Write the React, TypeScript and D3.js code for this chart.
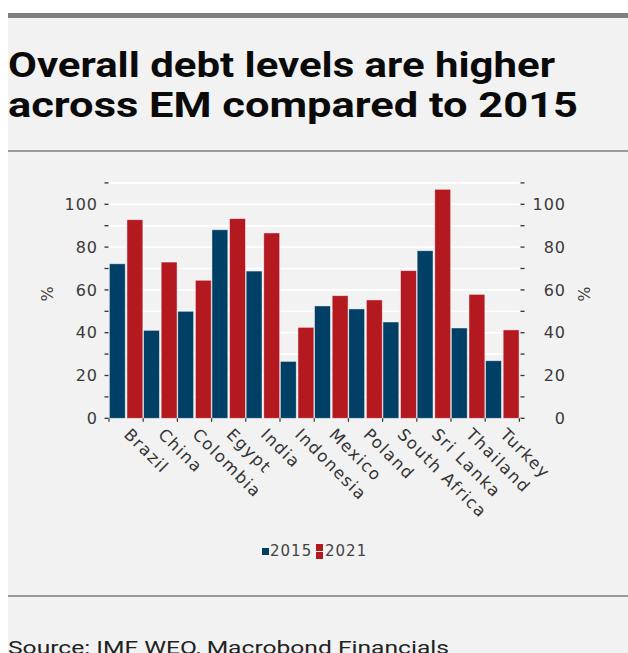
import React from "react";
import * as d3 from "d3";

const categories = ["Brazil", "China", "Colombia", "Egypt", "India", "Indonesia", "Mexico", "Poland", "South Africa", "Sri Lanka", "Thailand", "Turkey"];
const series = ["2015", "2021"];
const values2015 = [72.2, 41.1, 50.0, 88.1, 68.8, 26.6, 52.5, 51.1, 45.0, 78.3, 42.2, 26.9];
const values2021 = [92.8, 73.0, 64.5, 93.3, 86.6, 42.5, 57.3, 55.3, 69.0, 107.0, 57.9, 41.3];
const yTicks = [0, 20, 40, 60, 80, 100];
const title1 = "Overall debt levels are higher";
const title2 = "across EM compared to 2015";
const source = "Source: IMF WEO, Macrobond Financials";

const colors: Record<string, string> = { "2015": "#003f66", "2021": "#b3191f" };

export default function App() {
  const W = 628, H = 653;
  const left = 109, right = 519.4, top = 182.9, bottom = 418.3;
  const x0 = d3.scaleBand<string>().domain(categories).range([left, right]).paddingInner(0).paddingOuter(0);
  const x1 = d3.scaleBand<string>().domain(series).range([0, x0.bandwidth()]).paddingInner(0.1).paddingOuter(0.02);
  const y = d3.scaleLinear().domain([0, 110]).range([bottom, top]);
  const minor = d3.range(0, 111, 10);
  const grid = d3.range(10, 111, 10);
  const data: Record<string, number[]> = { "2015": values2015, "2021": values2021 };
  const tickFont = "DejaVu Sans, sans-serif";
  return (
    <svg width={W} height={H} style={{ position: "absolute", left: 0, top: 0 }}>
      <rect x={0} y={0} width={W} height={H} fill="#ffffff" />
      <rect x={8} y={13} width={W - 8} height={H - 13} fill="#f2f2f2" />
      <rect x={8} y={13} width={W - 8} height={5} fill="#7f7f7f" />
      <text x={8} y={77} fontFamily="Roboto, sans-serif" fontWeight={700} fontSize={35} fill="#0a0a0a" textLength={547} lengthAdjust="spacingAndGlyphs">{title1}</text>
      <text x={8} y={117} fontFamily="Roboto, sans-serif" fontWeight={700} fontSize={35} fill="#0a0a0a" textLength={570} lengthAdjust="spacingAndGlyphs">{title2}</text>
      <line x1={8} x2={W} y1={151} y2={151} stroke="#9a9a9a" strokeWidth={2} />

      {grid.map((g) => (
        <line key={"g" + g} x1={left} x2={right} y1={y(g)} y2={y(g)} stroke="#ffffff" strokeWidth={1.6} />
      ))}

      {series.map((s) =>
        categories.map((c, i) => (
          <rect key={s + c} x={(x0(c) as number) + (x1(s) as number)} y={y(data[s][i])} width={x1.bandwidth()} height={bottom - y(data[s][i])} fill={colors[s]} stroke="#ffffff" strokeOpacity={0.55} strokeWidth={0.8} />
        ))
      )}

      {minor.map((t) => (
        <g key={"t" + t}>
          <line x1={104.5} x2={108.5} y1={y(t)} y2={y(t)} stroke="#333" strokeWidth={1.3} />
          <line x1={520.5} x2={524.5} y1={y(t)} y2={y(t)} stroke="#333" strokeWidth={1.3} />
        </g>
      ))}
      {yTicks.map((t) => (
        <g key={"l" + t} fontFamily={tickFont} fontSize={16} fill="#3a3a3a" letterSpacing={1}>
          <text x={98} y={y(t)} dy="0.36em" textAnchor="end">{t}</text>
          <text x={566} y={y(t)} dy="0.36em" textAnchor="end">{t}</text>
        </g>
      ))}
      <text transform={`translate(47,294) rotate(-90)`} textAnchor="middle" dy="0.36em" fontFamily={tickFont} fontSize={16} fill="#3a3a3a">%</text>
      <text transform={`translate(584,294) rotate(90)`} textAnchor="middle" dy="0.36em" fontFamily={tickFont} fontSize={16} fill="#3a3a3a">%</text>

      {[...categories.map((c) => x0(c) as number), right].map((bx, i) => (
        <line key={"b" + i} x1={bx} x2={bx} y1={bottom} y2={bottom + 3.5} stroke="#333" strokeWidth={1.2} />
      ))}
      {categories.map((c) => (
        <text key={"x" + c} transform={`translate(${(x0(c) as number) + x0.bandwidth() / 2 + 1},${bottom + 13}) rotate(45)`} dy="0.35em" fontFamily={tickFont} fontSize={16.5} letterSpacing={1.5} fill="#333">{c}</text>
      ))}

      <rect x={262} y={548} width={7} height={7} fill={colors["2015"]} />
      <text x={270} y={556} fontFamily={tickFont} fontSize={15} letterSpacing={1} fill="#444">2015</text>
      <rect x={316} y={544} width={7} height={7} fill={colors["2021"]} />
      <rect x={316} y={552} width={7} height={7} fill={colors["2021"]} />
      <text x={325} y={556} fontFamily={tickFont} fontSize={15} letterSpacing={1} fill="#444">2021</text>

      <line x1={8} x2={W} y1={596} y2={596} stroke="#9a9a9a" strokeWidth={2} />
      <text x={8} y={654} fontFamily="Roboto, sans-serif" fontSize={19} fill="#222" textLength={441} lengthAdjust="spacingAndGlyphs">{source}</text>
    </svg>
  );
}
